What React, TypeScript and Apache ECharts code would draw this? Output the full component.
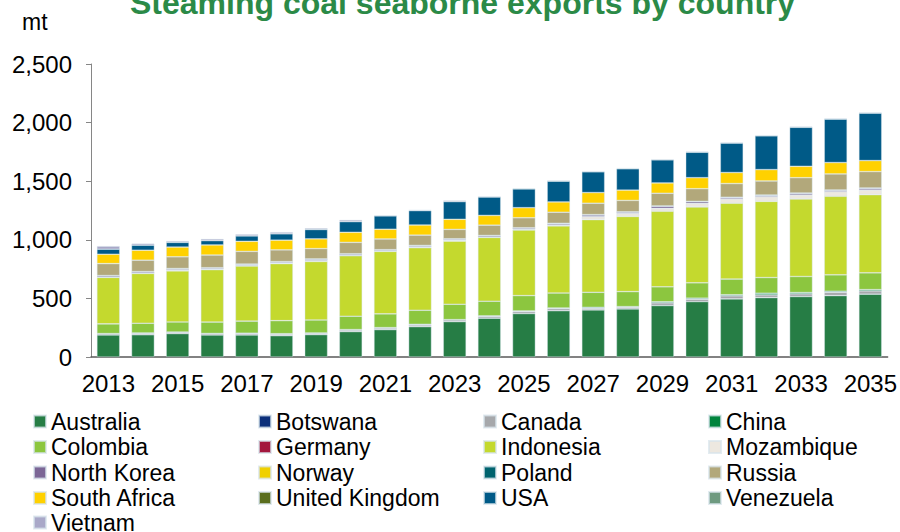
import React, { useEffect, useRef } from "react";
import * as echarts from "echarts";

const years = ["2013","2014","2015","2016","2017","2018","2019","2020","2021","2022","2023","2024","2025","2026","2027","2028","2029","2030","2031","2032","2033","2034","2035"];

const australia = [188,190,200,188,188,182,191,217,234,259,302,331,371,395,402,410,439,473,496,507,516,524,536];
const botswana = [0,0,0,0,0,0,0,0,0,0,0,0,0,0,0,0,0,0,0,0,0,0,0];
const canada = [10,12,11,11,13,12,12,13,13,14,15,15,17,17,14,14,23,20,26,23,23,28,28];
const china = [2,3,2,2,2,5,2,4,4,6,2,5,5,6,8,6,9,9,9,14,11,9,11];
const colombia = [83,83,86,97,103,111,111,114,117,120,131,125,131,128,128,128,128,131,134,134,137,140,143];
const germany = [0,0,0,0,0,0,0,0,0,0,0,0,0,0,0,0,0,0,0,0,0,0,0];
const indonesia = [396,425,436,447,470,487,499,516,533,533,539,544,559,573,620,641,644,647,647,650,661,670,667];
const mozambique = [2,2,8,5,5,5,8,3,3,8,8,3,6,8,26,26,26,31,37,40,34,40,40];
const northKorea = [11,11,9,9,9,9,11,11,9,9,9,11,11,11,14,11,17,14,11,11,14,11,14];
const norway = [0,0,0,0,0,0,0,0,0,0,0,0,0,0,0,0,0,0,0,0,0,0,0];
const poland = [3,3,3,3,3,3,3,3,3,3,3,3,3,3,3,3,3,3,3,3,3,3,3];
const russia = [102,97,100,108,108,100,88,97,91,88,80,88,85,94,97,97,108,108,117,120,131,137,140];
const southAfrica = [80,85,83,86,86,83,83,86,83,86,86,83,86,88,91,88,88,94,94,97,97,97,94];
const unitedKingdom = [0,0,0,0,0,0,0,0,0,0,0,0,0,0,0,0,0,0,0,0,0,0,0];
const usa = [43,43,40,37,46,54,80,91,114,123,151,157,160,177,177,182,197,217,251,288,333,371,405];
const venezuela = [0,0,0,0,0,0,0,0,0,0,0,0,0,0,0,0,0,0,0,0,0,0,0];
const vietnam = [26,14,11,14,14,14,11,14,6,6,9,6,6,6,6,6,6,6,6,6,6,6,6];

const yTicks = [0, 500, 1000, 1500, 2000, 2500];

const seriesDefs = [
  { name: "Australia", data: australia, color: "#267d45" },
  { name: "Botswana", data: botswana, color: "#0b2f7a" },
  { name: "Canada", data: canada, color: "#a6a8ab" },
  { name: "China", data: china, color: "#00843d" },
  { name: "Colombia", data: colombia, color: "#8cc63f" },
  { name: "Germany", data: germany, color: "#a3173e" },
  { name: "Indonesia", data: indonesia, color: "#c4d92e" },
  { name: "Mozambique", data: mozambique, color: "#ede8e0" },
  { name: "North Korea", data: northKorea, color: "#7b6696" },
  { name: "Norway", data: norway, color: "#f0d000" },
  { name: "Poland", data: poland, color: "#00636e" },
  { name: "Russia", data: russia, color: "#b2a87b" },
  { name: "South Africa", data: southAfrica, color: "#ffd100" },
  { name: "United Kingdom", data: unitedKingdom, color: "#5a6e1e" },
  { name: "USA", data: usa, color: "#005a87" },
  { name: "Venezuela", data: venezuela, color: "#6e9a80" },
  { name: "Vietnam", data: vietnam, color: "#a9a8c8" },
];

const legendColumns = [
  ["Australia", "Colombia", "North Korea", "South Africa"],
  ["Botswana", "Germany", "Norway", "United Kingdom"],
  ["Canada", "Indonesia", "Poland", "USA"],
  ["China", "Mozambique", "Russia", "Venezuela"],
];
const legendX = [33, 258, 483, 708];
const lastRow = ["Vietnam"];

const FONT = "'Liberation Sans', Arial, sans-serif";

export default function App() {
  const ref = useRef<HTMLDivElement>(null);
  useEffect(() => {
    if (!ref.current) return;
    const chart = echarts.init(ref.current, undefined, { renderer: "svg" });
    const legendBase = {
      orient: "vertical",
      padding: 0,
      itemWidth: 12,
      itemHeight: 12,
      itemGap: 2.5,
      icon: "rect",
      textStyle: { fontSize: 23, color: "#000", fontFamily: FONT, lineHeight: 22 },
    };
    const option: any = {
      animation: false,
      textStyle: { fontFamily: FONT },
      title: {
        text: "Steaming coal seaborne exports by country",
        left: 130,
        top: -13,
        padding: 0,
        textStyle: { fontSize: 32, fontWeight: "bold", color: "#2b8a47", fontFamily: FONT },
      },
      graphic: [
        {
          type: "text",
          left: 22,
          top: 10,
          style: { text: "mt", fontSize: 23, fill: "#000", fontFamily: FONT },
        },
      ],
      grid: { left: 91, right: 12, top: 64, bottom: 175, containLabel: false },
      xAxis: {
        type: "category",
        data: years,
        axisLine: { lineStyle: { color: "#595959", width: 1.5 } },
        axisTick: { show: false },
        axisLabel: { interval: 1, fontSize: 24, color: "#000", margin: 14, fontFamily: FONT },
      },
      yAxis: {
        type: "value",
        min: yTicks[0],
        max: yTicks[yTicks.length - 1],
        interval: 500,
        splitLine: { show: false },
        axisLine: { show: true, lineStyle: { color: "#868686" } },
        axisTick: { show: true, length: 5, lineStyle: { color: "#868686" } },
        axisLabel: {
          fontSize: 24,
          color: "#000",
          margin: 19,
          fontFamily: FONT,
          formatter: (v: number) => v.toLocaleString("en-US"),
        },
      },
      legend: [
        ...legendColumns.map((names, i) => ({
          ...legendBase,
          left: legendX[i],
          top: 410,
          data: names,
        })),
        { ...legendBase, left: legendX[0], top: 511, data: lastRow },
      ],
      series: seriesDefs.map((s) => ({
        name: s.name,
        type: "bar",
        stack: "total",
        barCategoryGap: "34%",
        data: s.data.map((v) => (v === 0 ? "-" : v)),
        itemStyle: { color: s.color, borderColor: "rgba(215,228,235,0.7)", borderWidth: 0.6 },
        emphasis: { disabled: true },
      })),
    };
    chart.setOption(option);
    return () => chart.dispose();
  }, []);
  return (
    <div
      ref={ref}
      style={{ position: "fixed", left: 0, top: 0, width: 900, height: 532, background: "#fff" }}
    />
  );
}
